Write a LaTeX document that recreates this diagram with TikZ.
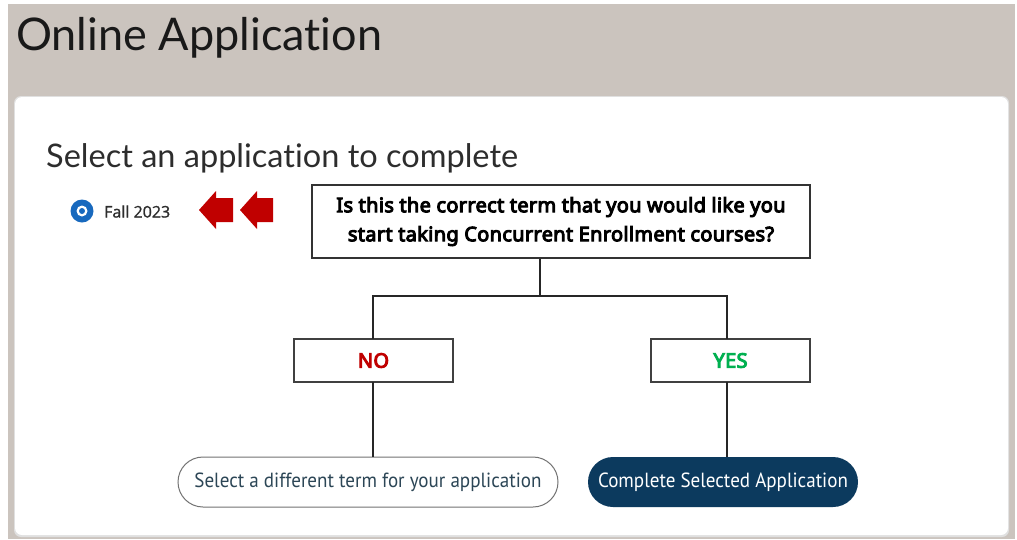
\documentclass[tikz,border=0pt]{standalone}
\usepackage{fontspec}
\setmainfont[Ligatures=NoCommon]{Lato}
\newfontfamily\qfont[FakeBold=5,LetterSpace=1.6]{Noto Sans}
\newfontfamily\btnfont[FakeStretch=0.93]{PT Sans}
\newfontfamily\smallfont[FakeBold=1.2]{Open Sans}
\definecolor{bggray}{RGB}{203,196,190}
\definecolor{navy}{RGB}{12,58,94}
\definecolor{radioblue}{RGB}{24,105,190}
\definecolor{myred}{RGB}{192,0,0}
\definecolor{mygreen}{RGB}{0,176,80}
\definecolor{slate}{RGB}{44,70,86}
\definecolor{txt}{RGB}{45,45,45}
\tikzset{
  qbox/.style={draw=black!80, line width=1.2pt, fill=white, inner sep=0pt},
  ansbox/.style={draw=black!75, line width=1.2pt, fill=white, minimum width=159pt, minimum height=43pt, inner sep=0pt, font=\qfont\fontsize{20}{22}\selectfont},
  conn/.style={draw=black!85, line width=1.2pt},
  pillbtn/.style={rounded corners=25pt, minimum height=50pt, inner sep=0pt, font=\btnfont\fontsize{20.5}{22}\selectfont},
  redarrow/.style={fill=myred, draw=none}
}
\begin{document}
\begin{tikzpicture}[x=1pt,y=-1pt]
\useasboundingbox (0,0) rectangle (1017,539);
\fill[white] (0,0) rectangle (1017,539);
% background band
\fill[bggray] (8,4) rectangle (1015,539);
% card
\fill[black!12, rounded corners=7pt] (14,96) rectangle (1009,537);
\fill[white, rounded corners=7pt] (15,97) rectangle (1008,535);
% title
\node[anchor=base west, inner sep=0pt, text=black!90, font=\fontsize{45}{50}\selectfont] (title) at (16,50) {Online Application};
\node[anchor=base west, inner sep=0pt, text=txt, font=\fontsize{32.5}{36}\selectfont] (sub) at (46,167) {Select an application to complete};
% radio
\fill[radioblue] (82,211) circle (11.5pt);
\fill[white] (82,211) circle (5.5pt);
\fill[radioblue] (82,211) circle (3pt);
\node[anchor=west, inner sep=0pt, text=txt, font=\smallfont\fontsize{16}{17}\selectfont] (fall) at (104,211.5) {Fall 2023};
% red arrows
\fill[redarrow] (199,210) -- (216,191) -- (216,198) -- (233,198) -- (233,222) -- (216,222) -- (216,229) -- cycle;
\fill[redarrow] (240,210) -- (257,191) -- (257,198) -- (273,198) -- (273,222) -- (257,222) -- (257,229) -- cycle;
% question
\node[qbox, minimum width=498pt, minimum height=73pt, align=center, font=\qfont\fontsize{20}{29}\selectfont] (q) at (561,221.5) {Is this the correct term that you would like you\\start taking Concurrent Enrollment courses?};
% answers
\node[ansbox, text=myred] (no) at (373.5,360.5) {NO};
\node[ansbox, text=mygreen] (yes) at (730.5,360.5) {YES};
% buttons
\node[pillbtn, draw=black!55, line width=1pt, fill=white, text=slate, minimum width=380pt] (b1) at (368,482) {Select a different term for your application};
\node[pillbtn, fill=navy, text=white, minimum width=270pt] (b2) at (723,482) {Complete Selected Application};
% connectors
\coordinate (split) at (540,296);
\draw[conn] (q.south -| split) -- (split);
\draw[conn] (split) -- (373,296) -- (373,339);
\draw[conn] (split) -- (727,296) -- (727,339);
\draw[conn] (373,382) -- (373,457);
\draw[conn] (727,382) -- (727,457);
\end{tikzpicture}
\end{document}
